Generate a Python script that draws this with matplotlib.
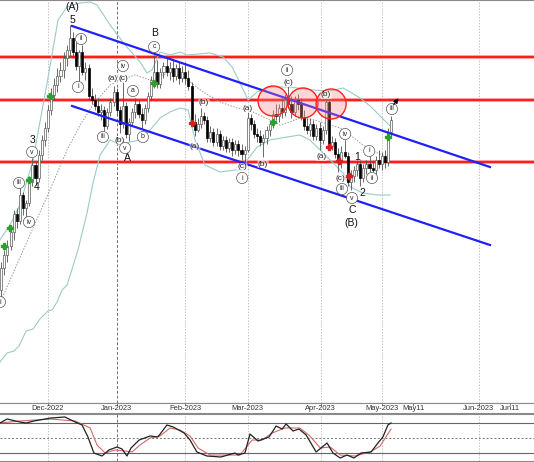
import numpy as np
import matplotlib
matplotlib.use("Agg")
import matplotlib.pyplot as plt
from matplotlib.patches import Ellipse

# ---------------- data ----------------
# bar index 0 = 1 Dec 2022 (one index per trading day; after the last bar one index per calendar day)
bar_start = -15
# OHLC, in chart rows (0 = top of price panel, 403 = bottom); price = 403 - row
open_y = [290,268,255,246,232,214,221,195,208,203,182,165,178,155,140,
          128,110,95,85,76,70,58,50,38,52,
          66,52,72,68,96,100,106,112,110,126,
          112,102,92,110,124,106,134,122,112,104,
          114,120,108,96,80,72,84,72,66,72,
          68,76,68,78,72,78,86,122,130,124,
          116,120,138,132,142,134,146,140,148,142,
          150,144,150,154,150,118,124,134,136,142,
          138,130,124,114,116,108,112,100,104,112,
          100,104,117,126,130,124,136,128,140,130,
          102,146,142,154,162,152,156,182,176,170,
          164,178,168,164,168,170,160,164,156,162,
          132]
high_y = [262,250,240,228,210,208,188,192,200,176,158,162,150,135,122,
          105,88,78,68,62,52,45,25,32,42,
          50,45,62,64,88,94,98,104,106,108,
          98,86,88,106,82,102,118,108,98,100,
          108,104,92,76,55,60,68,62,58,62,
          60,64,62,66,62,70,82,114,118,108,
          112,116,126,128,128,130,136,136,138,138,
          140,140,144,146,112,114,120,128,130,134,
          126,120,110,104,104,98,94,86,96,96,
          94,98,110,118,118,120,124,122,126,98,
          100,136,138,148,146,140,152,170,166,160,
          160,164,160,156,160,156,150,152,150,128,
          116]
low_y = [298,275,262,250,240,228,224,215,218,206,186,185,182,160,146,
         132,115,100,92,82,78,66,56,58,70,
         82,75,80,100,104,110,116,120,131,129,
         116,106,114,133,128,138,141,126,118,118,
         128,124,112,100,88,88,88,78,76,80,
         82,80,84,82,84,90,126,136,132,128,
         124,142,142,146,146,150,150,152,152,156,
         154,156,160,162,152,130,138,142,146,157,
         144,136,128,120,122,118,116,108,118,116,
         110,120,130,134,136,140,140,150,144,134,
         150,150,158,172,168,158,186,190,182,176,
         186,182,174,172,174,174,168,170,168,166,
         136]
close_y = [268,255,246,232,214,221,195,208,203,182,165,178,155,140,128,
           110,95,85,76,70,58,50,38,52,66,
           52,72,68,96,100,106,112,110,126,112,
           102,92,110,124,106,134,122,112,104,114,
           120,108,96,80,72,84,72,66,72,68,
           76,68,78,72,78,86,122,130,124,116,
           120,138,132,142,134,146,140,148,142,150,
           144,150,154,150,118,124,134,136,142,138,
           130,124,114,116,108,112,100,104,112,100,
           104,117,126,130,124,136,128,140,130,102,
           146,142,154,162,152,156,182,176,170,164,
           178,168,164,168,170,160,164,156,162,132,
           120]

# Bollinger bands (sampled: bar index, price)
bb_upper_x = [-15.4,-12.2,-9.0,-4.8,-0.3,3.2,6.1,10.3,13.5,15.7,19.9,24.7,29.5,31.7,33.3,35.9,39.1,42.3,44.5,51.9,56.1,59.0,61.5,64.1,67.0,71.1,77.5,84.9,90.4,94.5,96.8,100.0,103.2,106.4,109.6]
bb_upper_p = [163,178,198,243,320,383,396,400,401,398,378,358,341,330,333,351,348,351,348,350,346,336,320,303,311,316,316,313,312,315,311,305,297,287,277]
bb_mid_x = [-15.4,-4.8,0.6,6.1,10.3,14.4,19.9,23.1,27.9,32.7,39.1,45.5,49.7,55.1,60.6,65.7,71.1,74.3,77.5,80.7,85.5,90.4,93.6,96.8,100.9,104.8,109.6]
bb_mid_p = [100,175,213,253,278,298,318,323,328,323,331,321,311,301,295,291,283,278,281,285,283,278,275,268,258,251,245]
bb_lower_x = [-15.4,-13.1,-10.9,-9.3,-7.0,-4.8,-2.6,0,1.3,2.9,4.5,6.1,9.6,12.5,14.4,16.7,19.9,23.1,26.3,29.5,32.7,35.9,39.1,42.3,44.9,47.1,50.3,55.1,59.9,62.5,63.8,67.0,71.1,76.6,80.7,83.9,86.2,90.4,94.5,96.8,100.9,105.4,109.6]
bb_lower_p = [41,50,52,57,72,74,84,92,93,101,113,118,153,190,220,248,263,258,261,263,273,285,291,295,293,263,238,231,233,233,243,256,263,266,268,263,256,243,230,216,210,208,208]

# oscillator (sampled: bar index, value)
osc_k_x = [-15.4,-13.1,-9.0,-7.0,-4.5,1.0,5.4,8.7,10.9,12.8,14.7,17.3,19.5,22.1,23.7,25.3,26.6,29.2,32.7,35.2,38.1,40.1,43.6,45.5,47.7,50.9,55.4,59.9,60.9,63.1,64.7,67.3,70.8,73.1,75.0,76.3,78.5,80.4,82.7,85.9,89.4,91.3,93.6,95.8,98.0,100.3,103.5,105.7,107.3,108.9,109.9]
osc_k_v = [80,88,82,80,84,90,92,82,76,52,20,14,26,32,28,14,30,46,54,52,76,72,60,46,22,14,12,20,16,20,58,44,52,74,68,78,64,68,56,22,40,20,10,16,10,20,22,40,52,76,80]
osc_d_x = [-15.4,-9.0,0.6,8.7,13.5,15.7,18.3,21.5,24.7,26.9,29.5,32.7,35.9,39.1,42.3,45.5,48.1,51.9,61.5,65.4,68.6,71.8,75.9,80.7,83.9,87.2,90.4,93.6,98.4,103.2,106.4,109.9]
osc_d_v = [80,84,88,84,70,36,20,26,24,22,36,50,54,70,66,54,30,16,16,46,46,60,70,70,54,30,32,16,14,22,34,68]

# levels and annotations
resistance_levels = [346, 303, 241]
channel_upper = [(7.7, 377), (141.6, 236)]
channel_lower = [(7.7, 297), (141.6, 158)]
circles = [(72.1, 302), (81.7, 300), (90.7, 299)]
month_ticks = [(0, "Dec-2022"), (22, "Jan-2023"), (44, "Feb-2023"), (64, "Mar-2023"),
               (87.4, "Apr-2023"), (107, "May-2023"), (138, "Jun-2023")]
extra_ticks = [(117, "May11"), (148, "Jun11")]

big_labels = [("(A)", 7.7, 396), ("5", 7.7, 383), ("3", -5.1, 263), ("4", -3.8, 216),
              ("B", 34.0, 370), ("A", 25.3, 245), ("1", 99.0, 246), ("2", 100.8, 210),
              ("C", 97.4, 193), ("(B)", 97.1, 180)]
small_labels = [("(a)", 20.6, 324), ("(c)", 24.0, 324), ("(b)", 23.1, 263), ("(b)", 50.0, 300),
                ("(a)", 47.1, 257), ("(a)", 63.8, 294), ("(c)", 62.2, 236), ("(b)", 68.9, 239),
                ("(c)", 76.9, 320), ("(a)", 87.5, 246), ("(b)", 89.1, 308), ("(c)", 93.6, 224)]
circled_labels = [("i", -15.4, 101), ("iii", -9.3, 220), ("iv", -6.1, 181), ("v", -5.1, 251),
                  ("ii", 10.6, 364), ("i", 9.6, 316), ("iii", 17.6, 266), ("iv", 24.0, 337),
                  ("v", 24.7, 255), ("a", 27.2, 312), ("b", 30.4, 266), ("c", 34.0, 356),
                  ("i", 62.2, 225), ("ii", 76.6, 333), ("iv", 95.2, 269), ("iii", 94.2, 214),
                  ("v", 97.4, 205), ("i", 102.9, 252), ("ii", 103.8, 225), ("iii", 110.2, 294)]
buy_signals = [(-14.1, 157), (-12.2, 175), (-6.1, 223), (0.6, 307), (34.0, 320), (72.1, 281), (108.9, 266)]
sell_signals = [(46.1, 280), (90.0, 256), (93.2, 242), (96.4, 227)]

# ---------------- figure ----------------
TOP = 403
W, H = 534, 462
XMIN, XMAX = -15.38, 155.7
plt.rcParams["font.family"] = ["Liberation Sans", "DejaVu Sans"]

fig = plt.figure(figsize=(W / 100, H / 100), dpi=100)
ax = fig.add_axes([0, 1 - 403 / H, 1, 403 / H])
axs = fig.add_axes([0, 1 - 413 / H, 1, 10 / H])
axo = fig.add_axes([0, 1 / H, 1, 47.5 / H])

for a in (ax, axs, axo):
    a.set_xlim(XMIN, XMAX)
    a.set_xticks([]); a.set_yticks([])
    for s in ("left", "right"):
        a.spines[s].set_visible(False)
    for s in ("top", "bottom"):
        a.spines[s].set_color("#8a8a8a")
        a.spines[s].set_linewidth(0.8)

ax.set_ylim(0, TOP)
axs.set_ylim(0, 1)
axo.set_ylim(4, 99)

# vertical month lines
for pos, lab in month_ticks:
    if lab.startswith("Jan"):
        kw = dict(color="#6e6e6e", lw=0.7, ls=(0, (3, 2)))
    else:
        kw = dict(color="#c4c4c4", lw=0.7, ls=(0, (1.5, 1.5)))
    ax.axvline(pos, zorder=0, **kw)
    axo.axvline(pos, zorder=0, **kw)

# resistance levels
for lvl in resistance_levels:
    ax.axhline(lvl, color="#ff9a9a", lw=2.8, zorder=1)
    ax.axhline(lvl, color="#ff1a1a", lw=1.4, zorder=1)

# bollinger bands
ax.plot(bb_upper_x, bb_upper_p, color="#9ccaca", lw=0.8, zorder=1)
ax.plot(bb_lower_x, bb_lower_p, color="#9ccaca", lw=0.8, zorder=1)
ax.plot(bb_mid_x, bb_mid_p, color="#9a9a9a", lw=0.7, ls=(0, (1.5, 1.5)), zorder=1)

# candles
u = np.arange(bar_start, bar_start + len(close_y))
o = TOP - np.array(open_y, float)
h = TOP - np.array(high_y, float)
l = TOP - np.array(low_y, float)
c = TOP - np.array(close_y, float)
ax.vlines(u, l, h, color="#505050", lw=0.6, zorder=3)
bull = c >= o
bottom = np.minimum(o, c)
height = np.maximum(np.abs(c - o), 0.8)
ax.bar(u[bull], height[bull], bottom=bottom[bull], width=0.66,
       color="white", edgecolor="#5a5a5a", linewidth=0.5, zorder=4)
ax.bar(u[~bull], height[~bull], bottom=bottom[~bull], width=0.66,
       color="black", edgecolor="black", linewidth=0.5, zorder=4)

# channel
for (x0, y0), (x1, y1) in (channel_upper, channel_lower):
    ax.plot([x0, x1], [y0, y1], color="#1f1fff", lw=1.6, zorder=5)

# circles
for cx, cy in circles:
    ax.add_patch(Ellipse((cx, cy), 30 / 3.121, 30, facecolor=(1, 0.5, 0.5, 0.32),
                         edgecolor="#ff2020", lw=1.0, zorder=6))

# signals
for x, y in buy_signals:
    ax.plot(x, y, marker="P", color="#2ca02c", ms=4.5, mec="#2ca02c", zorder=7)
for x, y in sell_signals:
    ax.plot(x, y, marker="P", color="#d62020", ms=4.5, mec="#d62020", zorder=7)

# wave labels
for t, x, y in big_labels:
    ax.text(x, y, t, ha="center", va="center", fontsize=7.5, color="#111", zorder=8)
for t, x, y in small_labels:
    ax.text(x, y, t, ha="center", va="center", fontsize=6, color="#222", zorder=8,
            bbox=dict(boxstyle="round,pad=0.05", fc="white", ec="none", alpha=0.6))
for t, x, y in circled_labels:
    ax.text(x, y, t, ha="center", va="center", fontsize=5, color="#222", zorder=8,
            bbox=dict(boxstyle="circle,pad=0.3", fc="white", ec="#555", lw=0.5))

# arrow at the end
ax.annotate("", xy=(112.8, 307), xytext=(110.2, 296),
            arrowprops=dict(arrowstyle="-|>", color="black", lw=0.8, mutation_scale=7), zorder=9)

# date strip
for pos, lab in month_ticks + extra_ticks:
    axs.text(pos, 0.45, lab, ha="center", va="center", fontsize=5.4, color="#333")
    axs.plot([pos, pos], [1.0, 0.8], color="#666", lw=0.6)

# oscillator
axo.axhline(80, color="#666", lw=0.8)
axo.axhline(20, color="#666", lw=0.8)
axo.axhline(50, color="#777", lw=0.7, ls=(0, (2, 2)))
axo.plot(osc_d_x, osc_d_v, color="#d46a6a", lw=0.8, zorder=3)
axo.plot(osc_k_x, osc_k_v, color="#222", lw=0.9, zorder=4)

fig.savefig("out.png", dpi=100)
